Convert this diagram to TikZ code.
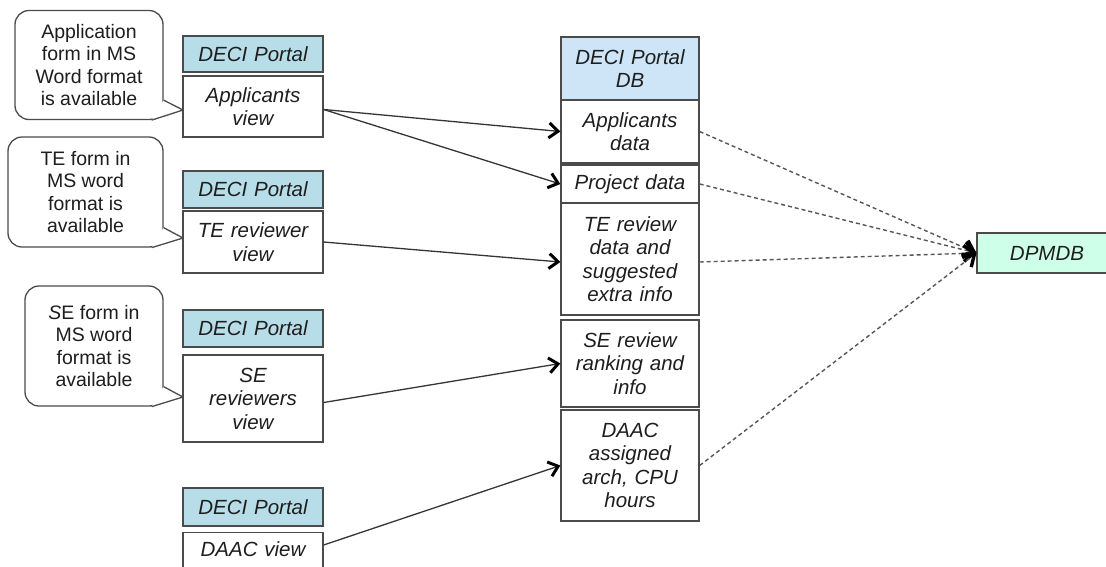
\documentclass[tikz,border=0pt]{standalone}
\usepackage{fontspec}
\setmainfont{Liberation Sans}
\usetikzlibrary{arrows.meta}

\definecolor{portalblue}{RGB}{183,222,232}
\definecolor{dbblue}{RGB}{206,229,247}
\definecolor{dpmgreen}{RGB}{206,255,232}
\definecolor{edgegray}{RGB}{75,75,75}
\definecolor{inkgray}{RGB}{30,30,30}

\begin{document}
\begin{tikzpicture}[x=1pt,y=-1pt,
  cell/.style={draw=edgegray, line width=1.3pt, fill=white, inner sep=0pt,
    text width=136pt, align=center, text=inkgray,
    font=\fontsize{20.5}{23.5}\selectfont\itshape},
  leftcell/.style={cell, minimum width=140pt},
  midcell/.style={cell, minimum width=138pt},
  bubble/.style={draw=edgegray, line width=1.3pt, fill=white, rounded corners=14pt,
    inner sep=0pt, align=center, text=inkgray,
    font=\fontsize{19.5}{22.5}\selectfont},
  pointer/.style={draw=edgegray, line width=1.3pt, fill=white, line join=round},
  feed/.style={draw=inkgray!90, line width=1.3pt,
    -{Straight Barb[length=9pt,width=15pt,line width=3pt,color=black]}},
  sync/.style={draw=inkgray!75, line width=1.4pt, dash pattern=on 4pt off 3pt,
    -{Straight Barb[length=10pt,width=16pt,line width=3.4pt,color=black]}},
]
\useasboundingbox (0,0) rectangle (1106,566);
\clip (0,0) rectangle (1106,566);

% ---- portal views (left column) ----
\node[leftcell, fill=portalblue, minimum height=36pt] (p1) at (253,54) {DECI Portal};
\node[leftcell, minimum height=61pt] (v1) at (253,106.5) {Applicants\\view};
\node[leftcell, fill=portalblue, minimum height=37pt] (p2) at (253,189.5) {DECI Portal};
\node[leftcell, minimum height=62pt] (v2) at (253,242) {TE reviewer\\view};
\node[leftcell, fill=portalblue, minimum height=37pt] (p3) at (253,328.5) {DECI Portal};
\node[leftcell, minimum height=87pt] (v3) at (253,398.5) {SE\\reviewers\\view};
\node[leftcell, fill=portalblue, minimum height=38pt] (p4) at (253,507) {DECI Portal};
\node[leftcell, anchor=north, text height=20pt, text depth=50pt, inner ysep=4pt] (v4) at (253,532) {DAAC view};

% ---- portal database (middle column) ----
\node[midcell, fill=dbblue, minimum height=63pt] (db) at (630,68.5) {DECI Portal\\DB};
\node[midcell, minimum height=63pt] (d1) at (630,131.5) {Applicants\\data};
\node[midcell, minimum height=38pt] (d2) at (630,184) {Project data};
\node[midcell, minimum height=112pt] (d3) at (630,259) {TE review\\data and\\suggested\\extra info};
\node[midcell, minimum height=87pt] (d4) at (630,363.5) {SE review\\ranking and\\info};
\node[midcell, minimum height=111pt] (d5) at (630,465.5) {DAAC\\assigned\\arch, CPU\\hours};

% ---- target database ----
\node[cell, fill=dpmgreen, minimum width=140pt, minimum height=40pt, line width=1.1pt] (dpm) at (1047,253) {DPMDB};

% ---- callouts with their pointers ----
\node[bubble, minimum width=148pt, minimum height=109pt] (c1) at (89,65)
  {Application\\form in MS\\Word format\\is available};
\coordinate (t1) at (183,110);
\filldraw[pointer] ([yshift=20pt]c1.south east) -- (t1) -- ([xshift=-12pt]c1.south east);

\node[bubble, minimum width=155pt, minimum height=110pt] (c2) at (85.5,192)
  {TE form in\\MS word\\format is\\available};
\coordinate (t2) at (183,238);
\filldraw[pointer] ([yshift=20pt]c2.south east) -- (t2) -- ([xshift=-12pt]c2.south east);

\node[bubble, minimum width=138pt, minimum height=120pt] (c3) at (94,346)
  {\textit{S}E form in\\MS word\\format is\\available};
\coordinate (t3) at (183,397);
\filldraw[pointer] ([yshift=20pt]c3.south east) -- (t3) -- ([xshift=-12pt]c3.south east);

% ---- data flow from the views into the portal DB ----
\draw[feed] ([yshift=-3pt]v1.east) -- (d1.west);
\draw[feed] ([yshift=-3pt]v1.east) -- (d2.west);
\draw[feed] (v2.east) -- ([yshift=-3pt]d3.west);
\draw[feed] ([yshift=-4pt]v3.east) -- (d4.west);
\draw[feed] (v4.east |- 0,545) -- (d5.west);

% ---- export from the portal DB to DPMDB ----
\draw[sync] (d1.east) -- (dpm.west);
\draw[sync] (d2.east) -- (dpm.west);
\draw[sync] ([yshift=-3pt]d3.east) -- (dpm.west);
\draw[sync] (d5.east) -- (dpm.west);
\end{tikzpicture}
\end{document}
